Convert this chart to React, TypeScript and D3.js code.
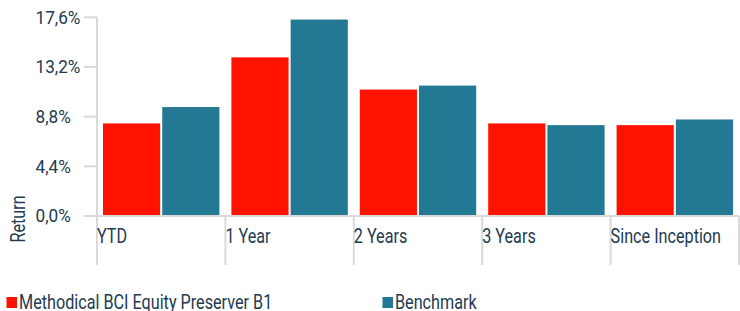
import { useEffect, useRef } from "react";
import * as d3 from "d3";

const categories = ["YTD", "1 Year", "2 Years", "3 Years", "Since Inception"];
const seriesNames = ["Methodical BCI Equity Preserver B1", "Benchmark"];
const fundValues = [8.2, 14.05, 11.2, 8.2, 8.05];
const benchmarkValues = [9.65, 17.4, 11.55, 8.05, 8.55];
const yTicks = [0, 4.4, 8.8, 13.2, 17.6];
const colors = ["#ff1300", "#237893"];

const FONT = "Roboto, 'DejaVu Sans Condensed', sans-serif";
const TEXT = "#233a50";
const GRID = "#dadada";

export default function App() {
  const svgRef = useRef<SVGSVGElement>(null);

  useEffect(() => {
    if (!svgRef.current) return;
    const svg = d3.select(svgRef.current);
    svg.selectAll("*").remove();

    const left = 97;
    const right = 739;
    const top = 17.3;
    const bottom = 216;

    const x0 = d3.scaleBand().domain(categories).range([left, right]);
    const bw = x0.bandwidth();
    const x1 = d3
      .scaleBand()
      .domain(seriesNames)
      .range([6, bw - 6])
      .paddingInner(0.035);
    const y = d3.scaleLinear().domain([0, 17.6]).range([bottom, top]);

    const fmt = (v: number) => v.toFixed(1).replace(".", ",") + "%";

    // the reference uses a condensed face; squeeze Roboto to match
    const squeeze = (sel: any, k: number) => {
      const node = sel.node() as SVGTextElement | null;
      if (!node) return;
      const w = node.getComputedTextLength();
      sel.attr("textLength", w * k).attr("lengthAdjust", "spacingAndGlyphs");
    };

    // axis lines
    svg
      .append("line")
      .attr("x1", left)
      .attr("x2", left)
      .attr("y1", y(17.6))
      .attr("y2", 265)
      .attr("stroke", GRID)
      .attr("stroke-width", 2);

    yTicks.forEach((t) => {
      svg
        .append("line")
        .attr("x1", 84)
        .attr("x2", left)
        .attr("y1", y(t))
        .attr("y2", y(t))
        .attr("stroke", GRID)
        .attr("stroke-width", 2);
      const lbl = svg
        .append("text")
        .attr("x", 35.5)
        .attr("y", y(t))
        .attr("dy", "0.36em")
        .attr("font-family", FONT)
        .attr("font-size", "17.5px")
        .attr("fill", TEXT)
        .text(fmt(t));
      squeeze(lbl, 0.98);
    });

    // bars
    const data = [fundValues, benchmarkValues];
    categories.forEach((c, i) => {
      seriesNames.forEach((s, j) => {
        const v = data[j][i];
        svg
          .append("rect")
          .attr("x", (x0(c) ?? 0) + (x1(s) ?? 0))
          .attr("y", y(v))
          .attr("width", x1.bandwidth())
          .attr("height", y(0) - y(v))
          .attr("fill", colors[j]);
      });
    });

    svg
      .append("line")
      .attr("x1", 84)
      .attr("x2", right)
      .attr("y1", bottom)
      .attr("y2", bottom)
      .attr("stroke", GRID)
      .attr("stroke-width", 2);

    // category dividers and labels
    categories.forEach((c) => {
      const bx = x0(c) ?? 0;
      svg
        .append("line")
        .attr("x1", bx + bw)
        .attr("x2", bx + bw)
        .attr("y1", bottom)
        .attr("y2", 265)
        .attr("stroke", GRID)
        .attr("stroke-width", 2);
      const lbl = svg
        .append("text")
        .attr("x", bx)
        .attr("y", 243)
        .attr("font-family", FONT)
        .attr("font-size", "19.5px")
        .attr("fill", TEXT)
        .text(c);
      squeeze(lbl, 0.83);
    });

    // y title
    const title = svg
      .append("text")
      .attr("transform", "translate(25,219) rotate(-90)")
      .attr("text-anchor", "middle")
      .attr("font-family", FONT)
      .attr("font-size", "19.5px")
      .attr("fill", TEXT)
      .text("Return");
    squeeze(title, 0.83);

    // legend
    const legendX = [6.5, 382.5];
    seriesNames.forEach((s, j) => {
      svg
        .append("rect")
        .attr("x", legendX[j])
        .attr("y", 297)
        .attr("width", 10.5)
        .attr("height", 11)
        .attr("fill", colors[j]);
      const lbl = svg
        .append("text")
        .attr("x", legendX[j] + 12.5)
        .attr("y", 309)
        .attr("font-family", FONT)
        .attr("font-size", "19.5px")
        .attr("fill", TEXT)
        .text(s);
      squeeze(lbl, 0.83);
    });
  }, []);

  return (
    <svg
      ref={svgRef}
      width={740}
      height={311}
      style={{ position: "absolute", left: 0, top: 0, background: "#fff" }}
    ></svg>
  );
}
